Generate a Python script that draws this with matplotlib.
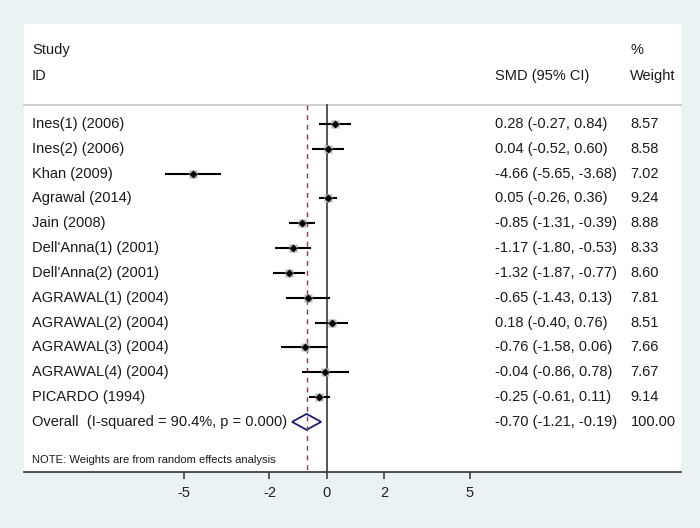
"""Forest plot of standardised mean differences (random effects)."""
import matplotlib
matplotlib.use("Agg")
import matplotlib.pyplot as plt
from matplotlib.patches import Polygon

plt.rcParams["font.family"] = ["Liberation Sans", "DejaVu Sans"]

# ---------------------------------------------------------------------------
# Data
# ---------------------------------------------------------------------------
studies = [
    "Ines(1) (2006)", "Ines(2) (2006)", "Khan (2009)", "Agrawal (2014)",
    "Jain (2008)", "Dell'Anna(1) (2001)", "Dell'Anna(2) (2001)",
    "AGRAWAL(1) (2004)", "AGRAWAL(2) (2004)", "AGRAWAL(3) (2004)",
    "AGRAWAL(4) (2004)", "PICARDO (1994)",
]
smd = [0.28, 0.04, -4.66, 0.05, -0.85, -1.17, -1.32, -0.65, 0.18, -0.76, -0.04, -0.25]
ci_low = [-0.27, -0.52, -5.65, -0.26, -1.31, -1.80, -1.87, -1.43, -0.40, -1.58, -0.86, -0.61]
ci_high = [0.84, 0.60, -3.68, 0.36, -0.39, -0.53, -0.77, 0.13, 0.76, 0.06, 0.78, 0.11]
weights = [8.57, 8.58, 7.02, 9.24, 8.88, 8.33, 8.60, 7.81, 8.51, 7.66, 7.67, 9.14]

overall_label = "Overall  (I-squared = 90.4%, p = 0.000)"
overall_smd, overall_low, overall_high = -0.70, -1.21, -0.19
overall_weight = 100.00
note = "NOTE: Weights are from random effects analysis"
xticks = [-5, -2, 0, 2, 5]

# ---------------------------------------------------------------------------
# Figure
# ---------------------------------------------------------------------------
bg = "#eaf2f3"
fig = plt.figure(figsize=(7.0, 5.28), dpi=100, facecolor=bg)
ax = fig.add_axes([24 / 700, 56 / 528, 657 / 700, 448 / 528])
ax.set_facecolor("white")

ax.set_xlim(-10.58, 12.39)
ax.set_ylim(14.02, -4.03)
for side in ("top", "left", "right"):
    ax.spines[side].set_visible(False)
ax.spines["bottom"].set_color("#333333")
ax.spines["bottom"].set_linewidth(1.2)
ax.set_yticks([])
ax.set_xticks(xticks)
ax.set_xticklabels([str(t) for t in xticks])
ax.tick_params(axis="x", length=5, width=1.1, color="#333333",
               labelsize=10.5, pad=5, labelcolor="#222222")

n = len(studies)
rows = list(range(n))
overall_row = n
header_y = -0.765
bottom_y = 14.02

# header separator
ax.plot([-10.58, 12.39], [header_y, header_y], color="#cfcfcf", lw=1.4,
        clip_on=False)

# reference lines
ax.plot([0, 0], [header_y, bottom_y], color="#555555", lw=1.4)
ax.plot([overall_smd, overall_smd], [header_y, bottom_y], color="#8b3a4a",
        lw=1.0, ls=(0, (3.5, 3.5)))

# study estimates
for y, m, lo, hi in zip(rows, smd, ci_low, ci_high):
    ax.plot([lo, hi], [y, y], color="black", lw=1.5, solid_capstyle="butt")
    ax.plot(m, y, marker="s", ms=6.3, color="#b8b8b8", mec="none")
    ax.plot(m, y, marker="D", ms=4.0, color="black", mec="none")

# pooled diamond
h = 0.32
ax.add_patch(Polygon(
    [(overall_low, overall_row), (overall_smd, overall_row - h),
     (overall_high, overall_row), (overall_smd, overall_row + h)],
    closed=True, fill=False, edgecolor="#1f1f6e", lw=1.3))

# text columns
fs = 10.5
tc = "#1a1a1a"
tr = ax.get_yaxis_transform()
col_id, col_smd, col_w = 0.012, 0.7165, 0.923
ax.text(col_id, -2.98, "Study", transform=tr, fontsize=fs, color=tc, va="center")
ax.text(col_id, -1.93, "ID", transform=tr, fontsize=fs, color=tc, va="center")
ax.text(col_smd, -1.93, "SMD (95% CI)", transform=tr, fontsize=fs, color=tc, va="center")
ax.text(col_w, -2.98, "%", transform=tr, fontsize=fs, color=tc, va="center")
ax.text(col_w, -1.93, "Weight", transform=tr, fontsize=fs, color=tc, va="center")

for y, name, m, lo, hi, w in zip(rows, studies, smd, ci_low, ci_high, weights):
    ax.text(col_id, y, name, transform=tr, fontsize=fs, color=tc, va="center")
    ax.text(col_smd, y, f"{m:.2f} ({lo:.2f}, {hi:.2f})", transform=tr,
            fontsize=fs, color=tc, va="center")
    ax.text(col_w, y, f"{w:.2f}", transform=tr, fontsize=fs, color=tc, va="center")

ax.text(col_id, overall_row, overall_label, transform=tr, fontsize=fs,
        color=tc, va="center")
ax.text(col_smd, overall_row,
        f"{overall_smd:.2f} ({overall_low:.2f}, {overall_high:.2f})",
        transform=tr, fontsize=fs, color=tc, va="center")
ax.text(col_w, overall_row, f"{overall_weight:.2f}", transform=tr,
        fontsize=fs, color=tc, va="center")
ax.text(col_id, 13.53, note, transform=tr, fontsize=8.1, color=tc, va="center")

fig.savefig("out.png", dpi=100, facecolor=bg)
plt.close(fig)
